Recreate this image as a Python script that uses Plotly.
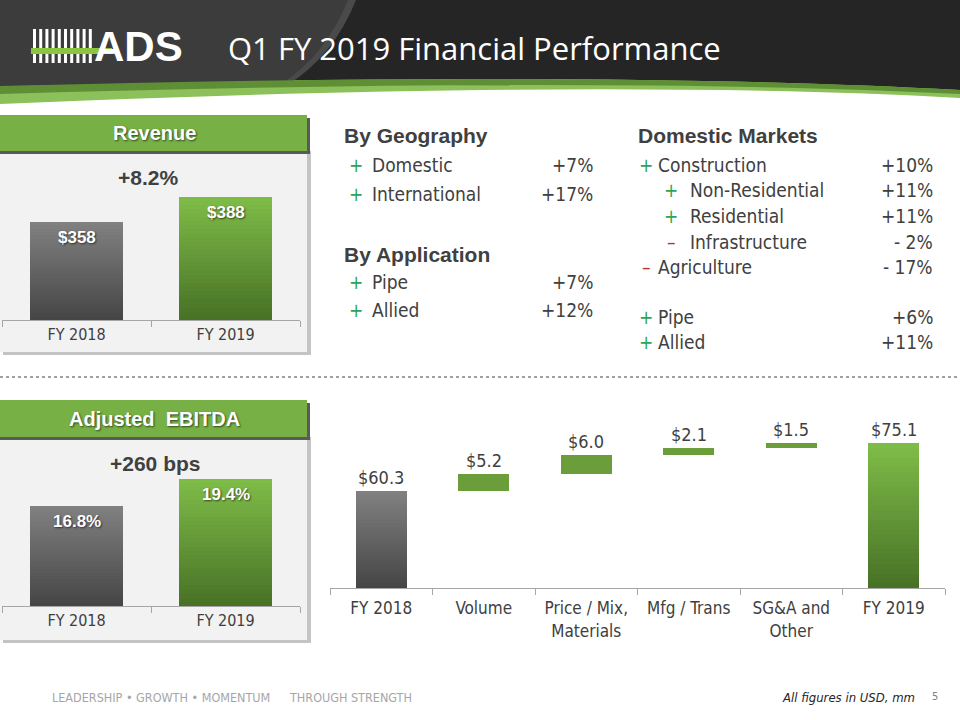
import plotly.graph_objects as go

W, H = 960, 720
def px(x): return x / W
def py(y): return 1 - y / H

# ---------------- data ----------------
fy_labels = ["FY 2018", "FY 2019"]
revenue = [358, 388]
revenue_growth = "+8.2%"
ebitda_margin = [16.8, 19.4]
ebitda_change = "+260 bps"

bridge_cats = ["FY 2018", "Volume", "Price / Mix,<br>Materials", "Mfg / Trans", "SG&A and<br>Other", "FY 2019"]
bridge_vals = [60.3, 5.2, 6.0, 2.1, 1.5, 75.1]
bridge_kind = ["total", "delta", "delta", "delta", "delta", "total"]

geo_items = ["Domestic", "International"]
geo_vals = ["+7%", "+17%"]
geo_signs = ["+", "+"]
app_items = ["Pipe", "Allied"]
app_vals = ["+7%", "+12%"]
app_signs = ["+", "+"]
dom_items = ["Construction", "Non-Residential", "Residential", "Infrastructure", "Agriculture", "Pipe", "Allied"]
dom_vals = ["+10%", "+11%", "+11%", "- 2%", "- 17%", "+6%", "+11%"]
dom_signs = ["+", "+", "+", "\u2013", "\u2013", "+", "+"]
dom_indent = [0, 1, 1, 1, 0, 0, 0]

# ---------------- style ----------------
NARROW = "DejaVu Sans Condensed, Liberation Sans Narrow, sans-serif"
BOLD = "Liberation Sans, Arial, sans-serif"
TXT = "#404040"
GREEN_HDR = "#77b145"
PLUS = "#2ea35a"
MINUS = "#b5342a"
GRAY_TOP, GRAY_BOT = (128, 128, 128), (70, 70, 70)
GRN_TOP, GRN_BOT = (126, 188, 72), (72, 114, 38)
STEP_GREEN = "#6b9e3b"

def lerp(c1, c2, t):
    return "#%02x%02x%02x" % tuple(int(round(a + (b - a) * t)) for a, b in zip(c1, c2))

fig = go.Figure()

def gradient_bars(xs, vals, base, tops, bots, xa, ya, width, n=30):
    for i in range(n):
        t = i / (n - 1)
        ys = [base + (v - base) * (1 - i / n) for v in vals]
        cols = [lerp(tp, bt, t) for tp, bt in zip(tops, bots)]
        fig.add_trace(go.Bar(x=xs, y=ys, marker=dict(color=cols, line=dict(width=0)),
                             width=width, xaxis=xa, yaxis=ya, showlegend=False, hoverinfo="skip"))

# small charts
REV_MIN, REV_MAX = 243.8, 440
EB_MIN, EB_MAX = 7.07, 23.35
gradient_bars(fy_labels, revenue, REV_MIN, [GRAY_TOP, GRN_TOP], [GRAY_BOT, GRN_BOT], "x", "y", 0.62)
gradient_bars(fy_labels, ebitda_margin, EB_MIN, [GRAY_TOP, GRN_TOP], [GRAY_BOT, GRN_BOT], "x2", "y2", 0.62)

# bridge
BR_MIN, BR_MAX = 30.4, 88.4
bases, tops = [], []
run = 0.0
for v, k in zip(bridge_vals, bridge_kind):
    if k == "total":
        bases.append(0.0); tops.append(v); run = v
    else:
        bases.append(run); run = run + v; tops.append(run)
tot_x = [c for c, k in zip(bridge_cats, bridge_kind) if k == "total"]
tot_v = [v for v, k in zip(bridge_vals, bridge_kind) if k == "total"]
gradient_bars(tot_x, tot_v, BR_MIN, [GRAY_TOP, GRN_TOP], [GRAY_BOT, GRN_BOT], "x3", "y3", 0.5)
d_idx = [i for i, k in enumerate(bridge_kind) if k == "delta"]
fig.add_trace(go.Bar(x=[bridge_cats[i] for i in d_idx], y=[bridge_vals[i] for i in d_idx],
                     base=[bases[i] for i in d_idx], width=0.5,
                     marker=dict(color=STEP_GREEN, line=dict(width=0)),
                     xaxis="x3", yaxis="y3", showlegend=False, hoverinfo="skip"))

annotations = []
shapes = []

def ann(x, y, text, size, color=TXT, family=NARROW, xanchor="center", yanchor="middle", **kw):
    annotations.append(dict(x=px(x), y=py(y), xref="paper", yref="paper", text=text, showarrow=False,
                            xanchor=xanchor, yanchor=yanchor,
                            font=dict(size=size, color=color, family=family, **kw.pop("font", {})), **kw))

def rect(x0, y0, x1, y1, color, layer="below"):
    shapes.append(dict(type="rect", xref="paper", yref="paper", x0=px(x0), x1=px(x1), y0=py(y1), y1=py(y0),
                       fillcolor=color, line=dict(width=0), layer=layer))

def path(cmds, color, layer="below"):
    parts = []
    for c in cmds:
        if isinstance(c, str):
            parts.append(c)
        else:
            parts.append(f"{px(c[0]):.5f},{py(c[1]):.5f}")
    shapes.append(dict(type="path", xref="paper", yref="paper", path=" ".join(parts),
                       fillcolor=color, line=dict(width=0), layer=layer))

# ---------------- header ----------------
path(["M", (0, 0), "L", (960, 0), "L", (960, 98), "Q", (600, 78), (0, 104), "Z"], "#8cc05a")
path(["M", (0, 0), "L", (960, 0), "L", (960, 90), "Q", (600, 70), (0, 86), "Z"], "#262526")
path(["M", (0, 0), "L", (356, 0), "Q", (334, 55), (289, 84), "Q", (120, 84), (0, 86), "Z"], "#4a4a4a")
path(["M", (0, 0), "L", (348, 0), "Q", (326, 55), (281, 84), "Q", (120, 84), (0, 86), "Z"], "#3c3c3c")
path(["M", (0, 86), "Q", (600, 70), (960, 90), "L", (960, 94), "Q", (600, 76), (0, 94), "Z"], "#5f8f34")
# logo
for i in range(10):
    rect(33 + 6.2 * i, 29, 36 + 6.2 * i, 63, "#ffffff", layer="above")
rect(31, 48, 112, 54, "#8cc63f", layer="above")
ann(138, 46, "<b>ADS</b>", 42, color="#ffffff", family=BOLD)
ann(226, 48, "Q1 FY 2019 Financial Performance", 31, color="#ffffff",
    family="Open Sans, DejaVu Sans, sans-serif", xanchor="left")

# ---------------- panels ----------------
for (hy0, hy1, by1, label) in [(115, 151, 352, "Revenue"), (400, 437, 640, "Adjusted  EBITDA")]:
    rect(3, hy1, 311, by1 + 3, "#c4c4c4")
    rect(0, hy1, 307, by1, "#f2f2f2")
    rect(0, hy0 + 3, 310, hy1 + 3, "#5a5a5a")
    rect(0, hy0, 307, hy1, GREEN_HDR)
    ann(154, (hy0 + hy1) / 2, f"<b>{label}</b>", 20, color="#ffffff", family=BOLD,
        font=dict(shadow="1px 1px 2px rgba(0,0,0,0.6)"))

ann(148, 177, f"<b>{revenue_growth}</b>", 21, family=BOLD)
ann(155, 463, f"<b>{ebitda_change}</b>", 21, family=BOLD)

def bar_value_labels(vals, fmt, xref, yref):
    for c, v in zip(fy_labels, vals):
        annotations.append(dict(x=c, y=v, xref=xref, yref=yref, text=f"<b>{fmt(v)}</b>", showarrow=False,
                                yanchor="top", yshift=-4,
                                font=dict(size=17, color="#ffffff", family=BOLD,
                                          shadow="1px 1px 2px rgba(0,0,0,0.6)")))

bar_value_labels(revenue, lambda v: f"${v:.0f}", "x", "y")
bar_value_labels(ebitda_margin, lambda v: f"{v:.1f}%", "x2", "y2")

for c, top, v in zip(bridge_cats, tops, bridge_vals):
    annotations.append(dict(x=c, y=top, xref="x3", yref="y3", text=f"${v:.1f}", showarrow=False,
                            yanchor="bottom", yshift=1, font=dict(size=18, color=TXT, family=NARROW)))

# separator
shapes.append(dict(type="line", xref="paper", yref="paper", x0=0, x1=1, y0=py(377), y1=py(377),
                   line=dict(color="#a0a0a0", width=2, dash="dot")))

# ---------------- text blocks ----------------
ann(342, 135, "<b>By Geography</b>", 21, family=BOLD, xanchor="left")
ann(342, 254, "<b>By Application</b>", 21, family=BOLD, xanchor="left")
ann(636, 135, "<b>Domestic Markets</b>", 21, family=BOLD, xanchor="left")

for items, vals, signs, ys in [(geo_items, geo_vals, geo_signs, [165, 194]),
                               (app_items, app_vals, app_signs, [282, 310])]:
    for it, v, s, y in zip(items, vals, signs, ys):
        ann(356, y, s, 19, color=PLUS if s == "+" else MINUS, family=NARROW)
        ann(370, y, it, 19, family=NARROW, xanchor="left")
        ann(595, y, v, 19, family=NARROW, xanchor="right")

dom_ys = [165, 190, 216, 242, 267, 317, 342]
for it, v, s, ind, y in zip(dom_items, dom_vals, dom_signs, dom_indent, dom_ys):
    sx = 646 + 25 * ind
    tx = 656 + 32 * ind
    ann(sx, y, s, 19, color=PLUS if s == "+" else MINUS, family=NARROW)
    ann(tx, y, it, 19, family=NARROW, xanchor="left")
    ann(935, y, v, 19, family=NARROW, xanchor="right")

# ---------------- footer ----------------
ann(50, 697, "LEADERSHIP \u2022 GROWTH \u2022 MOMENTUM", 12.5, color="#a6a6a6", xanchor="left")
ann(287, 697, "THROUGH STRENGTH", 12.5, color="#a6a6a6", xanchor="left")
ann(917, 697, "<i>All figures in USD, mm</i>", 13, color="#262626", xanchor="right")
ann(935, 696, "5", 11, color="#808080")

# ---------------- axes ----------------
def xax(d0, d1, anchor, size, cats=None, standoff=0):
    a = dict(domain=[px(d0), px(d1)], anchor=anchor, showline=True, linecolor="#a6a6a6", linewidth=1,
             ticks="outside", tickson="boundaries", ticklen=6, tickcolor="#a6a6a6", showgrid=False,
             zeroline=False, tickfont=dict(size=size, color=TXT, family=NARROW), fixedrange=True,
             ticklabelstandoff=standoff)
    if cats:
        a.update(categoryorder="array", categoryarray=cats, type="category")
    return a

def yax(d0, d1, rng, anchor):
    return dict(domain=[py(d0), py(d1)], range=rng, anchor=anchor, visible=False, showgrid=False,
                zeroline=False, fixedrange=True)

fig.update_layout(
    width=W, height=H, margin=dict(l=0, r=0, t=0, b=0),
    paper_bgcolor="#ffffff", plot_bgcolor="rgba(0,0,0,0)",
    barmode="overlay", bargap=0, showlegend=False,
    xaxis=xax(2, 300, "y", 16, fy_labels),
    yaxis=yax(320, 152, [REV_MIN, REV_MAX], "x"),
    xaxis2=xax(2, 300, "y2", 16, fy_labels),
    yaxis2=yax(606, 438, [EB_MIN, EB_MAX], "x2"),
    xaxis3=xax(330, 945, "y3", 17, bridge_cats, standoff=5),
    yaxis3=yax(588, 400, [BR_MIN, BR_MAX], "x3"),
    annotations=annotations, shapes=shapes,
)

fig.write_html("out.html", config={"displayModeBar": False},
               post_script="document.body.style.margin='0';document.body.style.overflow='hidden';")
